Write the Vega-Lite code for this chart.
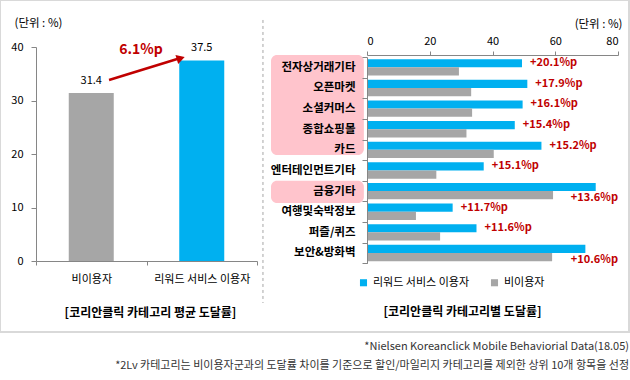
{
  "$schema": "https://vega.github.io/schema/vega-lite/v6.json",
  "width": 629,
  "height": 332,
  "autosize": {"type": "none"},
  "padding": {"left": 0, "top": 0, "right": 1, "bottom": 48},
  "background": "white",
  "config": {
    "view": {"stroke": "#d9d9d9", "strokeWidth": 2},
    "font": "Noto Sans CJK KR",
    "axis": {"labelFont": "Noto Sans CJK KR", "labelColor": "#000", "labelFontSize": 11, "domainColor": "#868686", "tickColor": "#868686", "grid": false, "titleFont": "Noto Sans CJK KR", "titleColor": "#000"},
    "legend": {"orient": "none", "legendX": 358, "legendY": 277, "direction": "horizontal", "symbolType": "square", "symbolSize": 50, "symbolStrokeWidth": 0, "labelFontSize": 11, "labelFont": "Noto Sans CJK KR", "labelColor": "#000", "columnPadding": 19, "labelOffset": 4}
  },
  "title": {
    "text": "*Nielsen Koreanclick Mobile Behaviorial Data(18.05)",
    "subtitle": "*2Lv 카테고리는 비이용자군과의 도달률 차이를 기준으로 할인/마일리지 카테고리를 제외한 상위 10개 항목을 선정",
    "orient": "bottom",
    "anchor": "end",
    "font": "Noto Sans CJK KR",
    "fontSize": 11,
    "fontWeight": "normal",
    "color": "#333",
    "subtitleFont": "Noto Sans CJK KR",
    "subtitleFontSize": 11,
    "subtitleColor": "#333",
    "offset": 9,
    "subtitlePadding": 8
  },
  "layer": [
    {
      "layer": [
        {
          "data": {"values": [
            {"group": "비이용자", "value": 31.4},
            {"group": "리워드 서비스 이용자", "value": 37.5}
          ]},
          "encoding": {
            "x": {"field": "group", "type": "nominal", "sort": null,
              "scale": {"domain": ["비이용자", "리워드 서비스 이용자"], "range": [36, 257], "paddingInner": 0, "paddingOuter": 0},
              "axis": {"orient": "bottom", "offset": -71, "tickBand": "extent", "tickSize": 4, "labelPadding": 8, "labelAngle": 0,
                "title": "[코리안클릭 카테고리 평균 도달률]", "titleX": 150, "titleY": 51, "titleAlign": "center", "titleBaseline": "middle", "titleFontSize": 12, "titleFontWeight": "bold"}},
            "y": {"field": "value", "type": "quantitative",
              "scale": {"domain": [0, 40], "range": [261, 47], "nice": false, "zero": true},
              "axis": {"orient": "left", "offset": -36, "values": [0, 10, 20, 30, 40], "tickSize": 5, "labelPadding": 8,
                "title": "(단위 : %)", "titleAngle": 0, "titleX": -22, "titleY": 23, "titleAlign": "left", "titleBaseline": "middle", "titleFontSize": 11.5, "titleFontWeight": "normal"}}
          },
          "layer": [
            {"mark": {"type": "bar", "size": 45},
             "encoding": {"color": {"field": "group", "type": "nominal", "title": null,
               "scale": {"domain": ["리워드 서비스 이용자", "비이용자"], "range": ["#00b0f0", "#a6a6a6"]}}}},
            {"mark": {"type": "text", "baseline": "bottom", "dy": -7, "fontSize": 11, "color": "#000"},
             "encoding": {"text": {"field": "value", "type": "quantitative", "format": ".1f"}}}
          ]
        },
        {
          "data": {"values": [{"note": "6.1%p"}]},
          "layer": [
            {"mark": {"type": "rule", "color": "#a6a6a6", "strokeDash": [3, 3], "strokeWidth": 1},
             "encoding": {
               "x": {"datum": 2.054, "type": "quantitative", "scale": {"domain": [0, 2], "range": [36, 257], "nice": false, "zero": false}, "axis": null},
               "y": {"datum": 45.05, "type": "quantitative"},
               "y2": {"datum": -7.85}
             }},
            {"mark": {"type": "rule", "color": "#c00000", "strokeWidth": 2.5},
             "encoding": {
               "x": {"datum": 0.661, "type": "quantitative"},
               "y": {"datum": 33.83, "type": "quantitative"},
               "x2": {"datum": 1.3},
               "y2": {"datum": 37.9}
             }},
            {"mark": {"type": "point", "shape": "triangle-right", "filled": true, "color": "#c00000", "size": 90, "opacity": 1, "angle": -17},
             "encoding": {
               "x": {"datum": 1.31, "type": "quantitative"},
               "y": {"datum": 37.9, "type": "quantitative"}
             }},
            {"mark": {"type": "text", "color": "#c00000", "fontSize": 14, "fontWeight": "bold", "align": "center", "baseline": "middle"},
             "encoding": {
               "x": {"datum": 0.95, "type": "quantitative"},
               "y": {"datum": 39.44, "type": "quantitative"},
               "text": {"field": "note"}
             }}
          ]
        }
      ],
      "resolve": {"scale": {"x": "independent"}}
    },
    {
      "layer": [
        {
          "data": {"values": [{"block": "highlight"}]},
          "encoding": {
            "y": {"datum": -0.1, "type": "quantitative", "scale": {"domain": [0, 10], "range": [57, 263.3], "nice": false, "zero": false}, "axis": null}
          },
          "layer": [
            {"mark": {"type": "rect", "color": "#ffc4cc", "cornerRadius": 6},
             "encoding": {
               "x": {"datum": -30.6, "type": "quantitative"},
               "x2": {"datum": -1.0},
               "y": {"datum": -0.1, "type": "quantitative"},
               "y2": {"datum": 4.75}
             }},
            {"mark": {"type": "rect", "color": "#ffc4cc", "cornerRadius": 6},
             "encoding": {
               "x": {"datum": -30.6, "type": "quantitative"},
               "x2": {"datum": -1.0},
               "y": {"datum": 6.0, "type": "quantitative"},
               "y2": {"datum": 7.08}
             }}
          ]
        },
        {
          "data": {"values": [
            {"category": "전자상거래기타", "리워드 서비스 이용자": 49.4, "비이용자": 29.3, "gap": 20.1},
            {"category": "오픈마켓", "리워드 서비스 이용자": 51.1, "비이용자": 33.2, "gap": 17.9},
            {"category": "소셜커머스", "리워드 서비스 이용자": 49.6, "비이용자": 33.5, "gap": 16.1},
            {"category": "종합쇼핑몰", "리워드 서비스 이용자": 47.1, "비이용자": 31.7, "gap": 15.4},
            {"category": "카드", "리워드 서비스 이용자": 55.6, "비이용자": 40.4, "gap": 15.2},
            {"category": "엔터테인먼트기타", "리워드 서비스 이용자": 37.2, "비이용자": 22.1, "gap": 15.1},
            {"category": "금융기타", "리워드 서비스 이용자": 72.9, "비이용자": 59.3, "gap": 13.6},
            {"category": "여행및숙박정보", "리워드 서비스 이용자": 27.3, "비이용자": 15.6, "gap": 11.7},
            {"category": "퍼즐/퀴즈", "리워드 서비스 이용자": 34.9, "비이용자": 23.3, "gap": 11.6},
            {"category": "보안&방화벽", "리워드 서비스 이용자": 69.6, "비이용자": 59.0, "gap": 10.6}
          ]},
          "encoding": {
            "y": {"field": "category", "type": "nominal", "sort": null,
              "scale": {"range": [57, 263.3], "paddingInner": 0, "paddingOuter": 0},
              "axis": {"orient": "left", "offset": -367, "tickBand": "extent", "tickSize": 5, "labelPadding": 7, "labelFontWeight": "bold", "labelFontSize": 11.5, "zindex": 1,
                "title": "[코리안클릭 카테고리별 도달률]", "titleAngle": 0, "titleX": 95, "titleY": 311, "titleAlign": "center", "titleBaseline": "middle", "titleFontSize": 12, "titleFontWeight": "bold"}}
          },
          "layer": [
            {"transform": [{"fold": ["리워드 서비스 이용자", "비이용자"], "as": ["series", "value"]}],
             "mark": {"type": "bar"},
             "encoding": {
               "x": {"field": "value", "type": "quantitative",
                 "scale": {"domain": [0, 80], "range": [367, 618], "nice": false, "zero": true},
                 "axis": {"orient": "top", "offset": -55, "values": [0, 20, 40, 60, 80], "tickSize": 4, "labelPadding": 5,
                   "title": "(단위 : %)", "titleAngle": 0, "titleX": 622, "titleY": -31, "titleAlign": "right", "titleBaseline": "middle", "titleFontSize": 11.5, "titleFontWeight": "normal"}},
               "yOffset": {"field": "series", "type": "nominal", "scale": {"domain": ["리워드 서비스 이용자", "비이용자"], "paddingInner": 0, "paddingOuter": 0.26}},
               "color": {"field": "series", "type": "nominal", "title": null}
             }},
            {"transform": [
               {"filter": "datum.category !== '금융기타' && datum.category !== '보안&방화벽'"},
               {"calculate": "'+' + format(datum.gap, '.1f') + '%p'", "as": "label"}
             ],
             "mark": {"type": "text", "align": "left", "baseline": "middle", "dx": 8, "fontSize": 11, "fontWeight": "bold", "color": "#c00000"},
             "encoding": {
               "x": {"field": "리워드 서비스 이용자", "type": "quantitative"},
               "yOffset": {"datum": "리워드 서비스 이용자"},
               "text": {"field": "label"}
             }},
            {"transform": [
               {"filter": "datum.category === '금융기타' || datum.category === '보안&방화벽'"},
               {"calculate": "'+' + format(datum.gap, '.1f') + '%p'", "as": "label"}
             ],
             "mark": {"type": "text", "align": "right", "baseline": "middle", "dy": 3, "fontSize": 11, "fontWeight": "bold", "color": "#c00000"},
             "encoding": {
               "x": {"datum": 80, "type": "quantitative"},
               "yOffset": {"datum": "비이용자"},
               "text": {"field": "label"}
             }}
          ]
        }
      ],
      "resolve": {"scale": {"y": "independent"}}
    }
  ],
  "resolve": {"scale": {"x": "independent", "y": "independent"}}
}
